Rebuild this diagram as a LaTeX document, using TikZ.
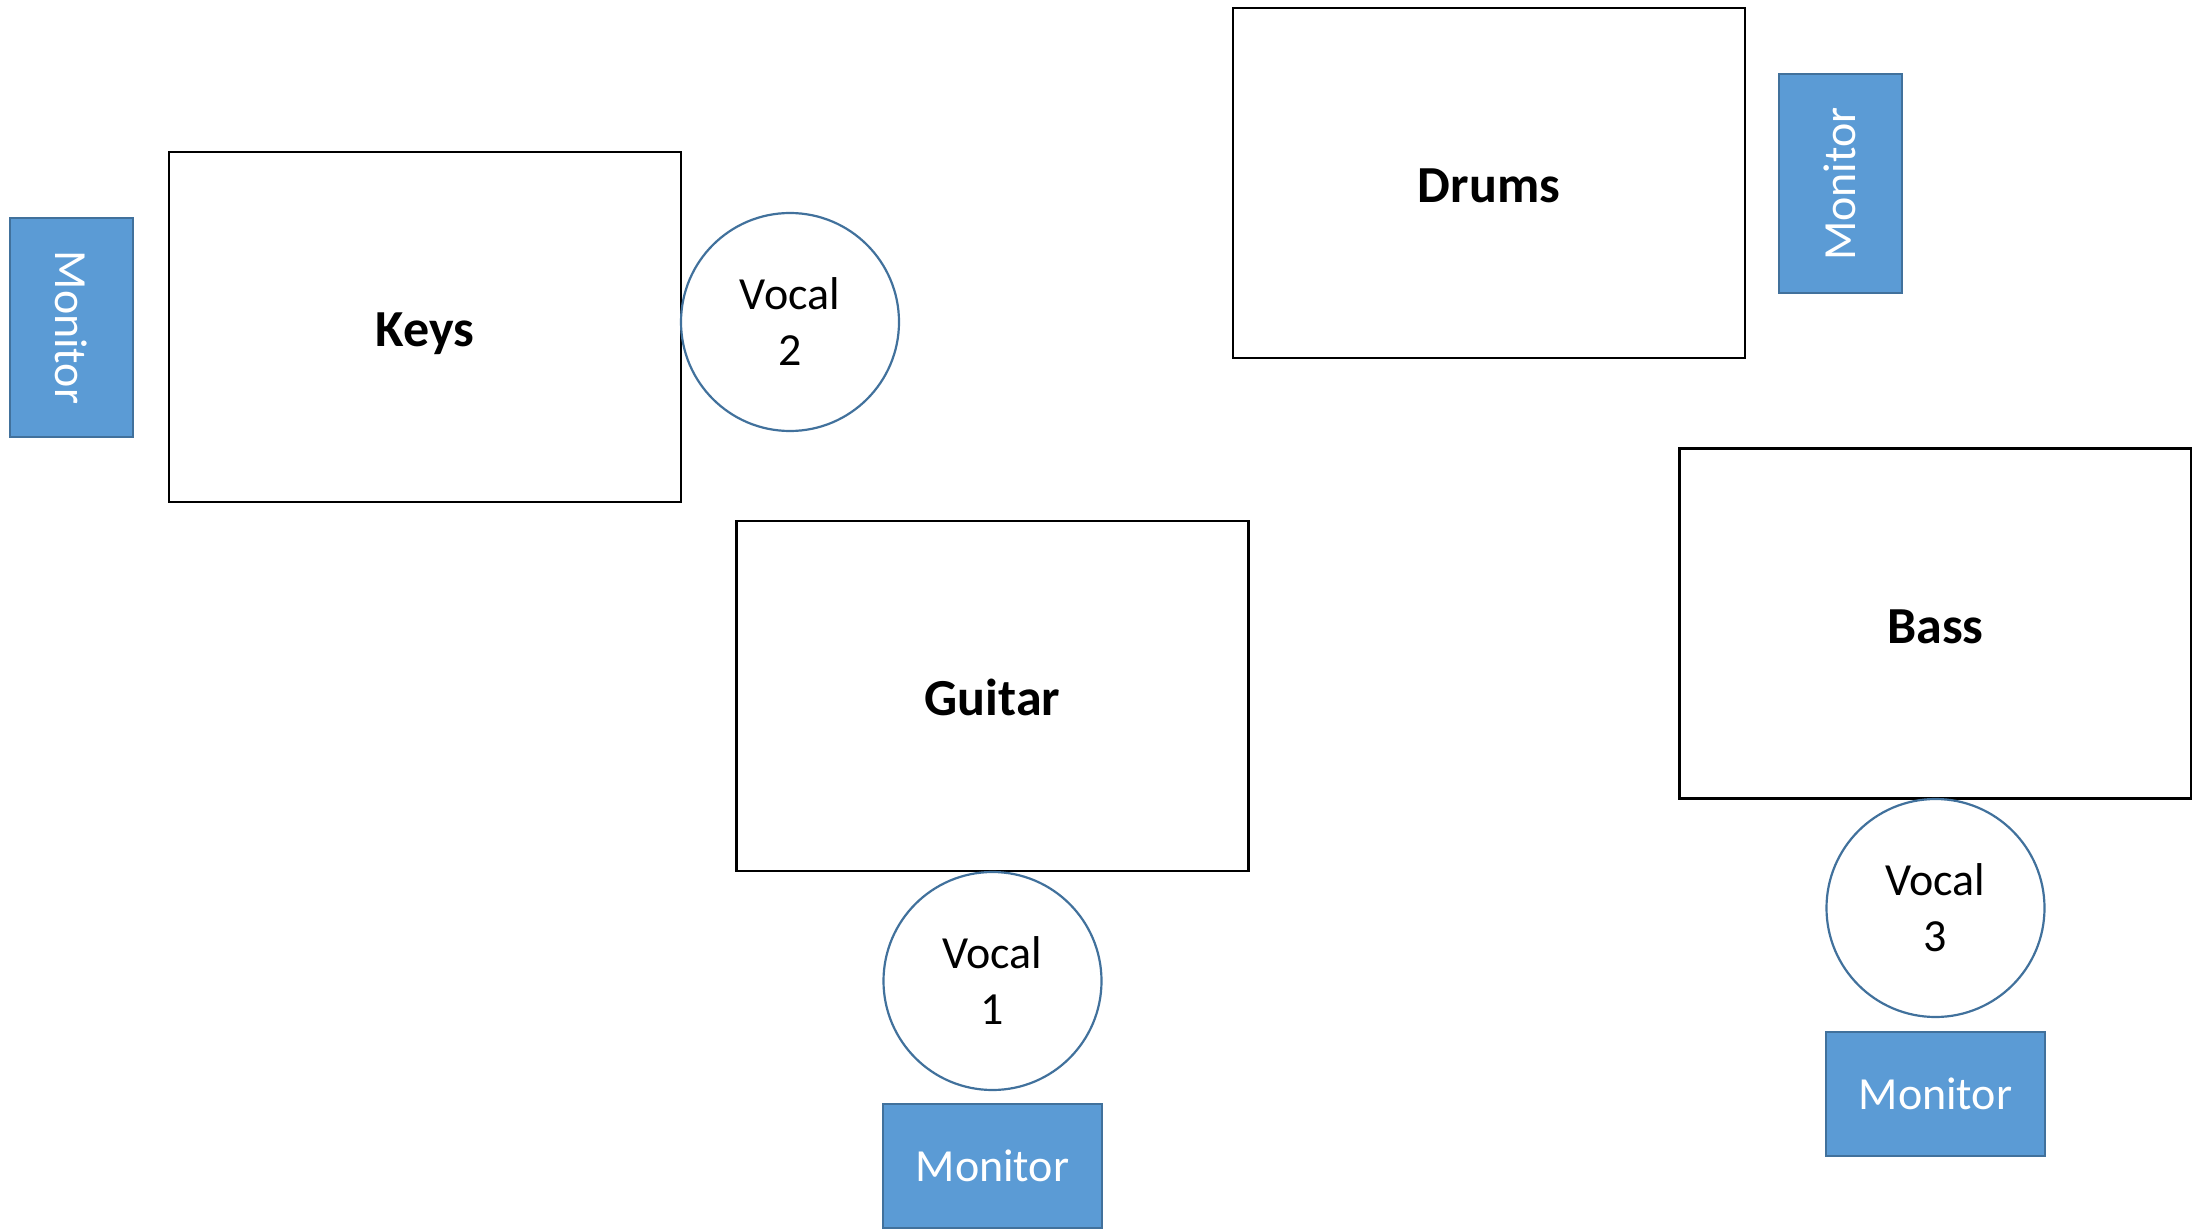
\documentclass[tikz,border=0pt]{standalone}
\usepackage{fontspec}
\setmainfont{Carlito}
\definecolor{monfill}{HTML}{5B9BD5}
\definecolor{monline}{HTML}{41719C}
\definecolor{vocline}{HTML}{41719C}
\begin{document}
\begin{tikzpicture}[x=0.5pt,y=-0.5pt,
  inst/.style={draw=black,line width=1.3pt,fill=white,rectangle,inner sep=0pt,
    minimum width=256pt,minimum height=175pt,text height=19.5pt,text depth=0pt,
    font=\fontsize{26}{30}\selectfont\bfseries},
  vocal/.style={draw=vocline,line width=1.1pt,fill=white,circle,inner sep=0pt,
    minimum size=109pt,align=center,font=\fontsize{23}{28}\selectfont},
  monh/.style={draw=monline,line width=1pt,fill=monfill,rectangle,inner sep=0pt,
    minimum width=109.5pt,minimum height=62pt,text=white,font=\fontsize{23}{28}\selectfont},
  monv/.style={draw=monline,line width=1pt,fill=monfill,rectangle,inner sep=0pt,
    minimum width=61.5pt,minimum height=109.5pt,text=white,font=\fontsize{23}{28}\selectfont}]
\useasboundingbox (0,0) rectangle (2192,1230);
% Keys group
\node[monv] (monK) at (71.5,327.5) {\rotatebox{-90}{Monitor}};
\node[inst] (keys) at (425,327) {Keys};
\node[vocal] (voc2) at (790,322) {Vocal\\2};
% Drums group
\node[inst] (drums) at (1489,183) {Drums};
\node[monv] (monD) at (1840,184) {\rotatebox{90}{Monitor}};
% Guitar group
\node[inst] (guitar) at (992.5,696) {Guitar};
\node[vocal] (voc1) at (992.5,981) {Vocal\\1};
\node[monh] (monG) at (992.5,1166) {Monitor};
% Bass group
\node[inst] (bass) at (1935.5,623.5) {Bass};
\node[vocal] (voc3) at (1935.5,908) {Vocal\\3};
\node[monh] (monB) at (1935.5,1094) {Monitor};
\end{tikzpicture}
\end{document}
